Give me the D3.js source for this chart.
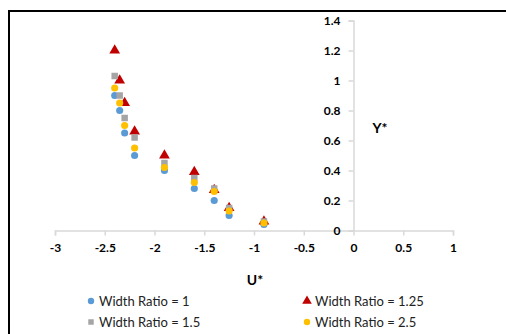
<!DOCTYPE html>
<html>
<head>
<meta charset="utf-8">
<script src="https://cdn.jsdelivr.net/npm/d3@7"></script>
<style>
  html, body { margin: 0; padding: 0; background: #fff; }
  svg { display: block; }
  text { font-family: Lato, "Liberation Sans", sans-serif; }
</style>
</head>
<body>
<div id="chart"></div>
<script>
// U* positions shared by every series
const uValues = [-2.4, -2.35, -2.3, -2.2, -1.9, -1.6, -1.4, -1.25, -0.9];

// Y* for each width ratio
const yRatio1   = [0.90, 0.80, 0.65, 0.50, 0.40, 0.28, 0.20, 0.10, 0.04];
const yRatio125 = [1.20, 1.00, 0.85, 0.66, 0.50, 0.39, 0.27, 0.15, 0.06];
const yRatio15  = [1.03, 0.90, 0.75, 0.62, 0.45, 0.35, 0.28, 0.15, 0.06];
const yRatio25  = [0.95, 0.85, 0.70, 0.55, 0.42, 0.32, 0.26, 0.13, 0.05];

const seriesNames = ["Width Ratio = 1", "Width Ratio = 1.25", "Width Ratio = 1.5", "Width Ratio = 2.5"];

const xTicks = [-3, -2.5, -2, -1.5, -1, -0.5, 0, 0.5, 1];
const yTicks = [0, 0.2, 0.4, 0.6, 0.8, 1, 1.2, 1.4];

const W = 506, H = 334;

const series = [
  { name: seriesNames[0], ys: yRatio1,   shape: "circle",   color: "#5B9BD5" },
  { name: seriesNames[1], ys: yRatio125, shape: "triangle", color: "#C00000" },
  { name: seriesNames[2], ys: yRatio15,  shape: "square",   color: "#A5A5A5" },
  { name: seriesNames[3], ys: yRatio25,  shape: "circle",   color: "#FFC000" }
];

const svg = d3.select("#chart").append("svg")
  .attr("width", W).attr("height", H);

// chart frame (runs off the right and bottom edges)
svg.append("rect")
  .attr("x", 9).attr("y", 11)
  .attr("width", 600).attr("height", 400)
  .attr("fill", "none").attr("stroke", "#000").attr("stroke-width", 2);

const x = d3.scaleLinear().domain([-3, 1]).range([55, 453]);
const y = d3.scaleLinear().domain([0, 1.4]).range([230.5, 20.5]);

const axisColor = "#d9d9d9";
// plain hyphen for negatives
const tickFmt = d => String(d);

// horizontal axis through Y*=0
const gx = svg.append("g")
  .attr("transform", `translate(0,${y(0)})`)
  .call(d3.axisBottom(x).tickValues(xTicks).tickSize(5).tickPadding(8)
    .tickFormat(tickFmt));
gx.select(".domain").attr("stroke", axisColor).attr("stroke-width", 1.5);
gx.selectAll(".tick line").attr("stroke", axisColor).attr("stroke-width", 1.5);
gx.selectAll(".tick text")
  .attr("fill", "#000").attr("font-size", 12).attr("font-weight", "bold")
  .attr("font-family", "Lato, 'Liberation Sans', sans-serif");

// vertical axis through U*=0
const gy = svg.append("g")
  .attr("transform", `translate(${x(0)},0)`)
  .call(d3.axisLeft(y).tickValues(yTicks).tickSize(5).tickPadding(8)
    .tickFormat(tickFmt));
gy.select(".domain").attr("stroke", axisColor).attr("stroke-width", 1.5);
gy.selectAll(".tick line").attr("stroke", axisColor).attr("stroke-width", 1.5);
gy.selectAll(".tick text")
  .attr("fill", "#000").attr("font-size", 12).attr("font-weight", "bold")
  .attr("font-family", "Lato, 'Liberation Sans', sans-serif");

// axis titles
svg.append("text").attr("x", 380).attr("y", 133)
  .attr("text-anchor", "middle").attr("font-size", 14).attr("font-weight", "bold")
  .text("Y*");
svg.append("text").attr("x", 255).attr("y", 285)
  .attr("text-anchor", "middle").attr("font-size", 14).attr("font-weight", "bold")
  .text("U*");

const symbolFor = {
  circle:   d3.symbol().type(d3.symbolCircle).size(40),
  triangle: d3.symbol().type(d3.symbolTriangle).size(50),
  square:   d3.symbol().type(d3.symbolSquare).size(42)
};

// markers
series.forEach(s => {
  svg.append("g").selectAll("path")
    .data(uValues.map((u, i) => ({ u, v: s.ys[i] })))
    .join("path")
    .attr("transform", d => `translate(${x(d.u)},${y(d.v)})`)
    .attr("d", symbolFor[s.shape]())
    .attr("fill", s.color);
});

// legend
const legendPos = [
  { lx: 91,  ly: 301 },
  { lx: 307, ly: 301 },
  { lx: 91,  ly: 322 },
  { lx: 307, ly: 322 }
];
const legendSym = {
  circle:   d3.symbol().type(d3.symbolCircle).size(32),
  triangle: d3.symbol().type(d3.symbolTriangle).size(40),
  square:   d3.symbol().type(d3.symbolSquare).size(30)
};
series.forEach((s, i) => {
  const p = legendPos[i];
  svg.append("path")
    .attr("transform", `translate(${p.lx},${p.ly})`)
    .attr("d", legendSym[s.shape]())
    .attr("fill", s.color);
  svg.append("text")
    .attr("x", p.lx + 8).attr("y", p.ly)
    .attr("dy", "0.35em")
    .attr("font-size", 13)
    .attr("fill", "#222")
    .text(s.name);
});
</script>
</body>
</html>
